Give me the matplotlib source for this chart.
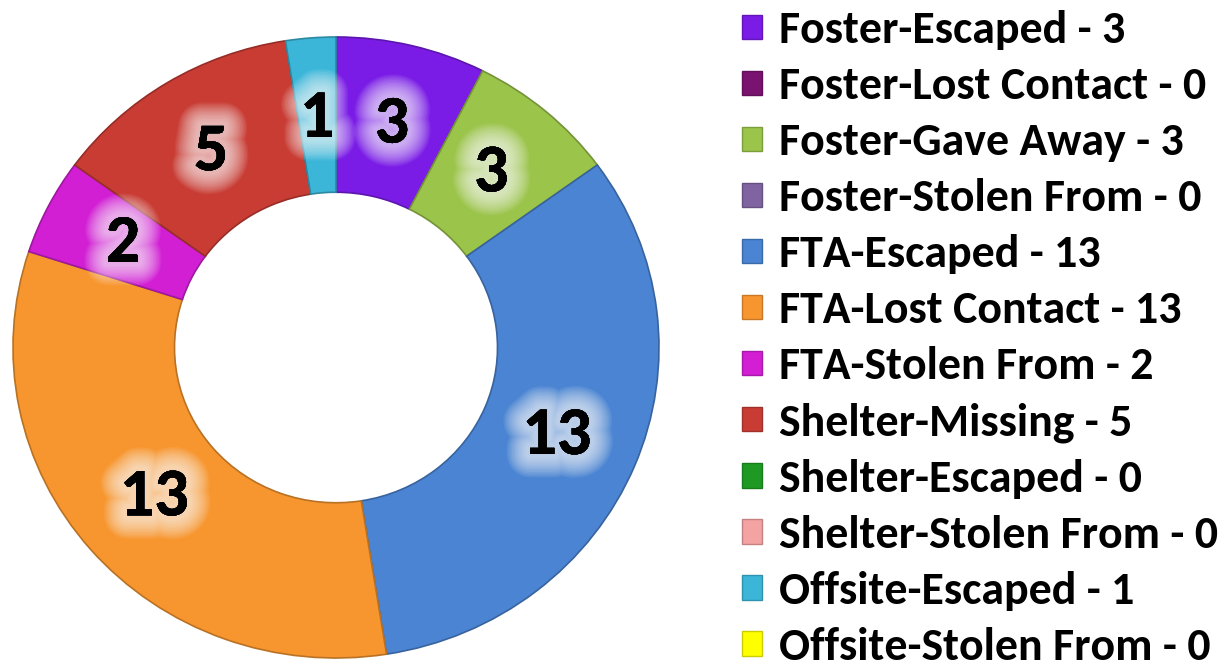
import numpy as np
import matplotlib
matplotlib.use('Agg')
import matplotlib.pyplot as plt
import matplotlib.patheffects as pe
from matplotlib.colors import to_rgb

categories = ['Foster-Escaped', 'Foster-Lost Contact', 'Foster-Gave Away', 'Foster-Stolen From',
              'FTA-Escaped', 'FTA-Lost Contact', 'FTA-Stolen From', 'Shelter-Missing',
              'Shelter-Escaped', 'Shelter-Stolen From', 'Offsite-Escaped', 'Offsite-Stolen From']
counts = [3, 0, 3, 0, 13, 13, 2, 5, 0, 0, 1, 0]
colors = ['#7A1CE6', '#7A1270', '#9BC44A', '#8064A2', '#4A84D2', '#F7962F',
          '#D21FD4', '#C83C34', '#1E9A24', '#F4A2A2', '#3BB6D8', '#FFFF00']

FONT = ['Carlito', 'Lato', 'DejaVu Sans']

def darker(c, f=0.7):
    r, g, b = to_rgb(c)
    return (r * f, g * f, b * f)

fig = plt.figure(figsize=(12.2, 6.61), dpi=100)
ax = fig.add_axes([13 / 1220, 3 / 661, 646 / 1220, 621 / 661])

wedges, _ = ax.pie(counts, colors=colors, startangle=90, counterclock=False,
                   radius=1.0, wedgeprops=dict(width=0.5, linewidth=1.2))
for w, c, n in zip(wedges, colors, counts):
    w.set_edgecolor(darker(c, 0.75))
    if n == 0:
        w.set_linewidth(0)

ax.set_aspect('auto')
ax.set_xlim(-1, 1)
ax.set_ylim(-1, 1)
ax.axis('off')

# value labels with a soft white glow
glow = [pe.withStroke(linewidth=lw, foreground=(1, 1, 1, 0.065)) for lw in range(34, 4, -2)]
glow.append(pe.Normal())
for w, n in zip(wedges, counts):
    if n == 0:
        continue
    mid = np.deg2rad((w.theta1 + w.theta2) / 2)
    r = 0.74
    ax.text(r * np.cos(mid), r * np.sin(mid), str(n), ha='center', va='center',
            fontsize=49, fontweight='bold', family=FONT, color='black',
            path_effects=glow)

labels = ['%s - %d' % (c, n) for c, n in zip(categories, counts)]
handles = [plt.Rectangle((0, 0), 1, 1, facecolor=c, edgecolor=darker(c, 0.8)) for c in colors]
leg = fig.legend(handles, labels, loc='center left', bbox_to_anchor=(724 / 1220, 1 - 338.5 / 661),
                 frameon=False, handlelength=0.44, handleheight=0.44, handletextpad=0.37,
                 labelspacing=0.35, borderaxespad=0,
                 prop=dict(family=FONT, weight='bold', size=33))

fig.savefig('out.png', dpi=100)
